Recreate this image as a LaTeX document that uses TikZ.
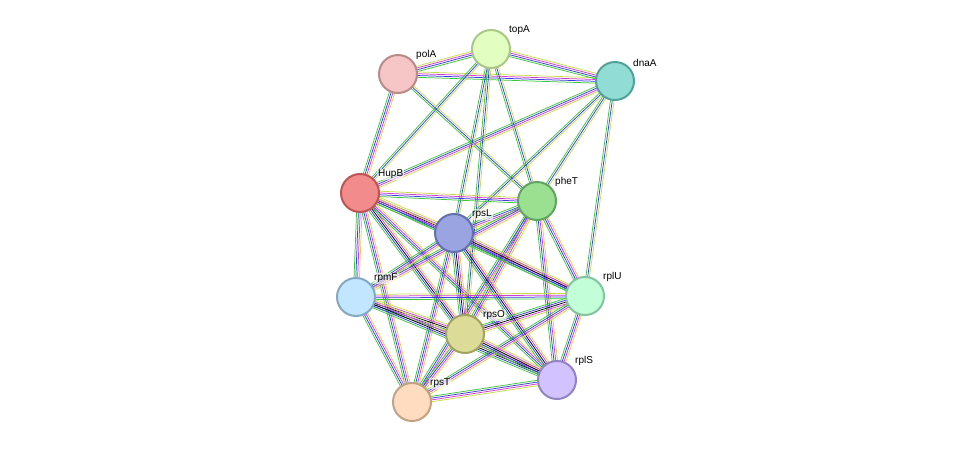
\documentclass[tikz,border=0pt]{standalone}
\usepackage{fontspec}
\setmainfont{Liberation Sans}
\usetikzlibrary{calc}
\definecolor{eg}{HTML}{3CC83C}\definecolor{eb}{HTML}{3C3CE6}\definecolor{em}{HTML}{D23CD2}\definecolor{ey}{HTML}{C8DC46}
\newcommand\ed[2]{\foreach \c/\o in {eg/-2.7, eb/-0.9, em/0.9, ey/2.7}{\draw[\c, line width=0.75pt] ($(#1)!\o pt!90:(#2)$) -- ($(#2)!\o pt!-90:(#1)$);}}
\newcommand\edt[2]{\foreach \c/\o in {eg/-1.8, eb/0, ey/1.8}{\draw[\c, line width=0.75pt] ($(#1)!\o pt!90:(#2)$) -- ($(#2)!\o pt!-90:(#1)$);}}
\newcommand\edk[2]{\foreach \c/\o in {eg/-3.6, eb/-1.8, black/0, em/1.8, ey/3.6}{\draw[\c, line width=0.75pt] ($(#1)!\o pt!90:(#2)$) -- ($(#2)!\o pt!-90:(#1)$);}}
\tikzset{prot/.style={circle, minimum size=38pt, line width=2pt, inner sep=0pt},
lab/.style={anchor=south west, font=\fontsize{10}{11}\selectfont, inner sep=1pt, fill=white, fill opacity=0.6, text opacity=1}}
\begin{document}
\begin{tikzpicture}[x=1pt,y=-1pt]
\useasboundingbox (0,0) rectangle (975,448);
\coordinate (polA) at (398,74);
\coordinate (topA) at (491,49);
\coordinate (dnaA) at (615,81);
\coordinate (HupB) at (360,193);
\coordinate (pheT) at (537,201);
\coordinate (rpsL) at (454,233);
\coordinate (rpmF) at (356,297);
\coordinate (rplU) at (585,296);
\coordinate (rpsO) at (465,334);
\coordinate (rplS) at (557,380);
\coordinate (rpsT) at (412,402);
\ed{polA}{topA}\ed{polA}{dnaA}\ed{topA}{dnaA}\ed{polA}{HupB}\edt{topA}{HupB}
\edt{polA}{pheT}\edt{topA}{pheT}\ed{dnaA}{HupB}\edt{dnaA}{pheT}\edt{dnaA}{rplU}
\edt{topA}{rpsL}\edt{topA}{rpsO}\edt{dnaA}{rpsL}
\ed{HupB}{pheT}\edk{HupB}{rpsL}\ed{HupB}{rpmF}\ed{HupB}{rplU}\edk{HupB}{rpsO}\ed{HupB}{rplS}\ed{HupB}{rpsT}
\ed{pheT}{rpsL}\ed{pheT}{rpmF}\ed{pheT}{rplU}\ed{pheT}{rpsO}\ed{pheT}{rplS}\ed{pheT}{rpsT}
\ed{rpsL}{rpmF}\edk{rpsL}{rplU}\edk{rpsL}{rpsO}\edk{rpsL}{rplS}\ed{rpsL}{rpsT}
\ed{rpmF}{rplU}\edk{rpmF}{rpsO}\edk{rpmF}{rplS}\ed{rpmF}{rpsT}
\edk{rplU}{rpsO}\ed{rplU}{rplS}\ed{rplU}{rpsT}\edk{rpsO}{rplS}\ed{rpsO}{rpsT}\ed{rplS}{rpsT}
\foreach \n/\f/\d in {polA/F6C6C6/B88A8A, topA/E2FEC0/A8C888, dnaA/92DCD6/52A29A, HupB/F28C8C/C05454, pheT/9AE090/62A262, rpsL/9AA4E0/6270B0, rpmF/C2E6FF/84A8C2, rplU/C2FFD8/84C2A2, rpsO/DCDC98/A2A262, rplS/D2C2FF/9284C2, rpsT/FFDCC0/C2A282}{
\definecolor{fc}{HTML}{\f}\definecolor{dc}{HTML}{\d}
\node[prot, fill=fc, draw=dc] (n-\n) at (\n) {};
\node[lab] (l-\n) at ($(\n)+(17,-13)$) {\n};
}
\end{tikzpicture}
\end{document}
